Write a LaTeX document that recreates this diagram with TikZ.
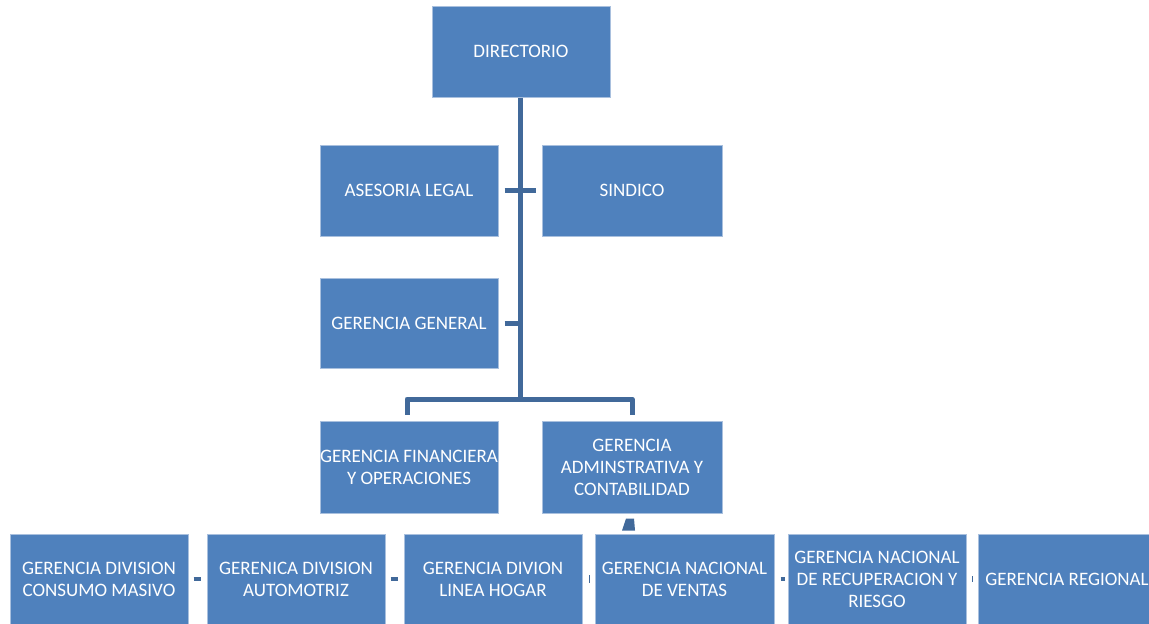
\documentclass[tikz,border=0pt]{standalone}
\usepackage{fontspec}
\setmainfont{Carlito}
\usetikzlibrary{calc}
\definecolor{boxfill}{HTML}{4F81BD}
\definecolor{boxline}{HTML}{A9C0DE}
\definecolor{connc}{HTML}{41699A}
\tikzset{
  box/.style={draw=boxline, line width=1pt, fill=boxfill, text=white,
    minimum width=178pt, minimum height=91pt, inner sep=0pt, align=center,
    font=\fontsize{19}{22}\selectfont},
  lowbox/.style={box, minimum height=90pt},
  conn/.style={draw=connc, line width=5pt, line join=round},
  tick/.style={draw=connc, line width=4pt},
  thin/.style={draw=connc, line width=1.6pt}
}
\begin{document}
\begin{tikzpicture}[x=1pt,y=-1pt]
\clip (0,0) rectangle (1149,624);
\fill[white] (0,0) rectangle (1149,624);
\coordinate (j) at (520,399);
\node[box] (dir) at (521,51.5) {DIRECTORIO};
\node[box] (ase) at (409,190.5) {ASESORIA LEGAL};
\node[box, minimum width=180pt] (sin) at (632,190.5) {SINDICO};
\node[box, minimum height=90pt] (gg) at (409,323) {GERENCIA GENERAL};
\node[box, minimum height=92pt] (gf) at (409,467) {GERENCIA FINANCIERA\\Y OPERACIONES};
\node[box, minimum width=180pt, minimum height=92pt] (ga) at (632,467) {GERENCIA\\ADMINSTRATIVA Y\\CONTABILIDAD};
\node[lowbox] (b1) at (99,579) {GERENCIA DIVISION\\CONSUMO MASIVO};
\node[lowbox] (b2) at (296,579) {GERENICA DIVISION\\AUTOMOTRIZ};
\node[lowbox] (b3) at (493,579) {GERENCIA DIVION\\LINEA HOGAR};
\node[lowbox, minimum width=179pt] (b4) at (684.5,579) {GERENCIA NACIONAL\\DE VENTAS};
\node[lowbox] (b5) at (877,579) {GERENCIA NACIONAL\\DE RECUPERACION Y\\RIESGO};
\node[lowbox] (b6) at (1067,579) {GERENCIA REGIONAL};
% connectors
\draw[conn] ([xshift=-1pt]dir.south) -- (j);
\draw[conn] ([xshift=6pt]ase.east) -- ([xshift=-6pt]sin.west);
\draw[conn] ([xshift=6pt]gg.east) -- (gg.east -| j);
\draw[conn] ($(gf.north)+(-2,-6)$) |- (j) -| ($(ga.north)+(0,-6)$);
% small fragments of the lower connectors
\draw[tick] ([xshift=5pt]b1.east) -- ([xshift=12pt]b1.east);
\draw[tick] ([xshift=5pt]b2.east) -- ([xshift=12pt]b2.east);
\draw[thin] ($(b3.east)+(7,-4)$) -- ($(b3.east)+(7,4)$);
\draw[tick] ($(b4.east)+(6,0)$) -- ($(b4.east)+(10,0)$);
\draw[thin] ($(b5.east)+(6,-3)$) -- ($(b5.east)+(6,3)$);
\fill[connc] ($(ga.south)+(-6,5)$) -- ($(ga.south)+(2,5)$) -- ($(ga.south)+(3,17)$)
  -- ($(ga.south)+(-10,17)$) -- cycle;
\end{tikzpicture}
\end{document}
